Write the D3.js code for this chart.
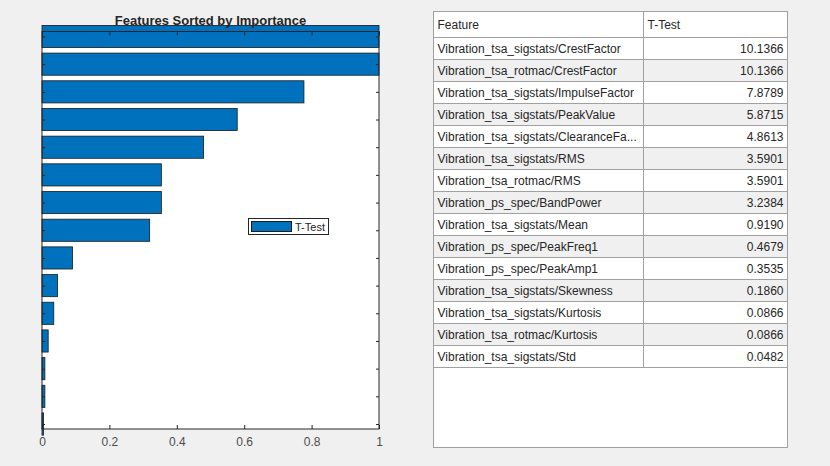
<!DOCTYPE html>
<html><head><meta charset="utf-8">
<script src="https://cdn.jsdelivr.net/npm/d3@7"></script>
<style>body{margin:0;background:#f0f0f0;font-family:"Liberation Sans",Arial,sans-serif}</style>
</head><body><svg id="c" width="830" height="466"></svg>
<script>
const features=["Vibration_tsa_sigstats/CrestFactor","Vibration_tsa_rotmac/CrestFactor","Vibration_tsa_sigstats/ImpulseFactor","Vibration_tsa_sigstats/PeakValue","Vibration_tsa_sigstats/ClearanceFa...","Vibration_tsa_sigstats/RMS","Vibration_tsa_rotmac/RMS","Vibration_ps_spec/BandPower","Vibration_tsa_sigstats/Mean","Vibration_ps_spec/PeakFreq1","Vibration_ps_spec/PeakAmp1","Vibration_tsa_sigstats/Skewness","Vibration_tsa_sigstats/Kurtosis","Vibration_tsa_rotmac/Kurtosis","Vibration_tsa_sigstats/Std"];
const ttest=[10.1366,10.1366,7.8789,5.8715,4.8613,3.5901,3.5901,3.2384,0.9190,0.4679,0.3535,0.1860,0.0866,0.0866,0.0482];
const xTicks=[0,0.2,0.4,0.6,0.8,1];
const svg=d3.select("#c");
const L=42,R=379,T=31.5,B=429;
const x=d3.scaleLinear().domain([0,1]).range([L,R]);
const y=d3.scaleLinear().domain([-0.18,14.18]).range([T,B]);
const maxV=d3.max(ttest);
svg.append("rect").attr("x",L).attr("y",T).attr("width",R-L).attr("height",B-T).attr("fill","#fff");
svg.append("g").selectAll("rect").data(ttest).join("rect")
 .attr("x",x(0)).attr("y",(d,i)=>y(i-0.4)).attr("height",(d,i)=>y(i+0.4)-y(i-0.4))
 .attr("width",d=>x(d/maxV)-x(0)).attr("fill","#0072bd").attr("stroke","#1a1a1a").attr("stroke-width",0.8);
const ax=svg.append("g").attr("transform",`translate(0,${B})`).call(d3.axisBottom(x).tickValues(xTicks).tickFormat(d3.format("~g")).tickSize(-4).tickPadding(8));
const axt=svg.append("g").attr("transform",`translate(0,${T})`).call(d3.axisTop(x).tickValues(xTicks).tickFormat("").tickSize(-4));
const ay=svg.append("g").attr("transform",`translate(${L},0)`).call(d3.axisLeft(y).tickValues(d3.range(15)).tickFormat("").tickSize(-3));
const ayr=svg.append("g").attr("transform",`translate(${R},0)`).call(d3.axisRight(y).tickValues(d3.range(15)).tickFormat("").tickSize(-3));
[ax,axt,ay,ayr].forEach(g=>{g.select(".domain").remove();g.selectAll("line").attr("stroke","#262626");g.selectAll("text").attr("fill","#4d4d4d").style("font-size","12px").style("font-family","Liberation Sans,Arial")});
svg.append("rect").attr("x",L).attr("y",T).attr("width",R-L).attr("height",B-T).attr("fill","none").attr("stroke","#262626").attr("stroke-width",1);
svg.append("text").attr("x",(L+R)/2).attr("y",25).attr("text-anchor","middle").attr("font-weight","bold").attr("font-size","13px").attr("fill","#262626").text("Features Sorted by Importance");
// legend
svg.append("rect").attr("x",248.5).attr("y",218.5).attr("width",80).attr("height",16).attr("fill","#fff").attr("stroke","#262626");
svg.append("rect").attr("x",251.5).attr("y",221.5).attr("width",40).attr("height",10).attr("fill","#0072bd").attr("stroke","#1a1a1a");
svg.append("text").attr("x",295).attr("y",231).attr("font-size","11px").attr("fill","#262626").text("T-Test");
// table
const tx=433.5,tw=354,cx=643.5,ty=11.5,hh=26,rh=22;
svg.append("rect").attr("x",tx).attr("y",ty).attr("width",tw).attr("height",436).attr("fill","#fff").attr("stroke","#a0a0a0");
svg.append("line").attr("x1",cx).attr("x2",cx).attr("y1",ty).attr("y2",ty+hh).attr("stroke","#a0a0a0");
svg.append("text").attr("x",tx+4).attr("y",ty+17).attr("font-size","12px").attr("fill","#262626").text("Feature");
svg.append("text").attr("x",cx+4).attr("y",ty+17).attr("font-size","12px").attr("fill","#262626").text("T-Test");
const rows=svg.append("g").selectAll("g").data(features).join("g").attr("transform",(d,i)=>`translate(0,${ty+hh+i*rh})`);
rows.append("rect").attr("x",tx).attr("width",tw).attr("height",rh).attr("fill",(d,i)=>i%2?"#f0f0f0":"#fff").attr("stroke","#a0a0a0");
rows.append("line").attr("x1",cx).attr("x2",cx).attr("y1",0).attr("y2",rh).attr("stroke","#a0a0a0");
rows.append("text").attr("x",tx+4).attr("y",15).attr("font-size","12px").attr("fill","#262626").text(d=>d);
rows.append("text").attr("x",tx+tw-4).attr("y",15).attr("text-anchor","end").attr("font-size","12px").attr("fill","#262626").text((d,i)=>ttest[i].toFixed(4));
</script></body></html>
